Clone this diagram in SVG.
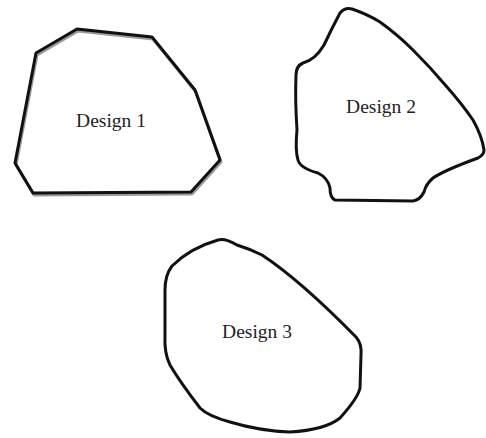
<svg xmlns="http://www.w3.org/2000/svg" width="486" height="438" viewBox="0 0 486 438">
<style>
.shape{fill:none;stroke:#111;stroke-width:3;stroke-linejoin:round;stroke-linecap:round}
.shadow{fill:none;stroke:#9a9a9a;stroke-width:3;stroke-linejoin:round}
.lbl{font-family:"Liberation Serif","Times New Roman",serif;font-size:19.5px;fill:#222;text-anchor:middle}
</style>
<rect width="486" height="438" fill="#fff"/>
<g id="design1">
<polygon class="shadow" transform="translate(1,2)" points="36,53 77,29 152,37 195,90 220,160 191,192 33,193 15,163"/>
<polygon class="shape" points="36,53 77,29 152,37 195,90 220,160 191,192 33,193 15,163"/>
<text class="lbl" x="111" y="127">Design 1</text>
</g>
<g id="design2">
<path class="shape" d="M340,13 Q345,7 352,9 Q367,14 380,22 Q398,35 413,50 Q431,68 447,87 Q462,104 473,120 Q482,136 484,150 Q484,155 478,158 Q445,170 433,178 Q426,184 424,192 Q420,200 413,201 L335,200 Q330,198 330,188 Q328,178 318,173 Q300,168 298,160 Q295,150 297,130 Q295,100 296,75 Q296,66 303,63 Q315,60 324,45 Q332,28 340,13 Z"/>
<text class="lbl" x="381" y="113">Design 2</text>
</g>
<g id="design3">
<path class="shape" d="M218,240 Q225,238 237,245 Q250,249 262,255 Q300,280 356,337 Q362,344 361,355 L360,388 Q358,398 340,418 Q325,430 290,432 Q260,431 230,422 Q208,416 200,408 Q180,382 170,365 Q164,353 165,335 L165,290 Q165,275 172,266 Q190,248 218,240 Z"/>
<text class="lbl" x="257" y="338">Design 3</text>
</g>
</svg>
